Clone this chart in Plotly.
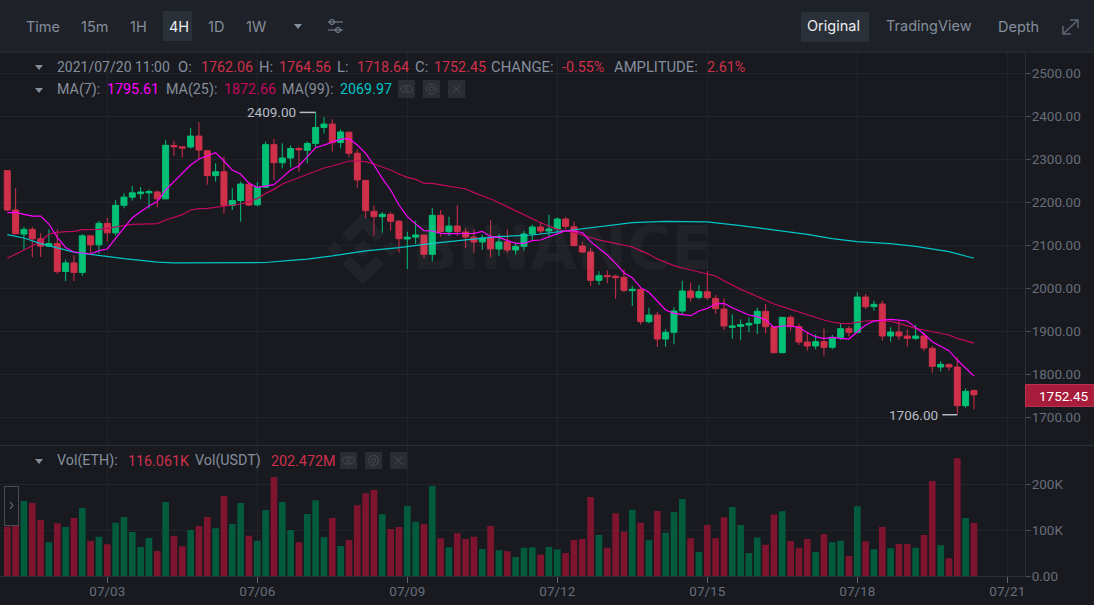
import pandas as pd
import plotly.graph_objects as go
import plotly.subplots as ms

W, H = 1094, 605

# 4H candles
opens = [2273.6, 2182.1, 2126, 2137, 2115, 2098, 2104, 2039, 2059, 2037,
         2122, 2101, 2151, 2129, 2193, 2212, 2220, 2222, 2224, 2208,
         2332, 2329, 2328.6, 2354, 2320, 2262, 2271, 2193, 2204, 2242,
         2194, 2235, 2334, 2292, 2303, 2325, 2321, 2337, 2374, 2382,
         2339, 2363, 2314, 2251, 2179, 2166.6, 2172, 2155.7, 2114.6, 2119,
         2124, 2079, 2169.7, 2131.7, 2145, 2131, 2119, 2107.7, 2117, 2091.4,
         2108, 2089, 2097.6, 2126.3, 2142.5, 2133.2, 2138, 2161, 2143, 2098.4,
         2084.4, 2018.5, 2030, 2028, 2025.5, 1994.5, 1996.8, 1922.4, 1937.9, 1882,
         1897.6, 1947.2, 1993.7, 1979, 1992, 1976.6, 1951.8, 1909.2, 1911.5, 1914.6,
         1918.5, 1946.4, 1910.7, 1850.3, 1932.5, 1910.7, 1875, 1865.8, 1875.9, 1862.7,
         1886, 1906.1, 1897.6, 1979.7, 1957.3, 1963.5, 1889, 1898.3, 1889, 1883.6,
         1889, 1860.4, 1817, 1822.4, 1817, 1727, 1762.06]
highs = [2275, 2232.5, 2143, 2143, 2128, 2137, 2137, 2067, 2077, 2126,
         2122, 2157, 2164, 2205, 2221, 2238, 2235, 2230, 2227, 2345,
         2343, 2329.5, 2373, 2386.7, 2321, 2290.6, 2306, 2232.5, 2248, 2248,
         2247, 2341, 2347, 2337, 2332, 2329, 2341, 2409, 2398, 2393,
         2369.7, 2364, 2323, 2252, 2192.9, 2177.4, 2177, 2158.8, 2131.7, 2157.3,
         2124, 2186.7, 2182, 2166.6, 2193, 2140, 2137, 2124.7, 2158.8, 2126,
         2137, 2104.6, 2133.2, 2148, 2152.6, 2171.2, 2165, 2165, 2155, 2108.4,
         2093.7, 2039.5, 2041.8, 2031.7, 2044.1, 2005.3, 2003.8, 1955, 1944.9, 1904.6,
         1955.7, 2017.7, 2013, 2007.6, 2040.2, 1984.4, 1976.6, 1939.4, 1927.8, 1932.5,
         1954.9, 1963.5, 1912.3, 1932.5, 1937.1, 1918.5, 1899.1, 1892.9, 1906.9, 1892.1,
         1917, 1912.3, 1990.6, 1986.7, 1971.2, 1971.2, 1909.2, 1924.7, 1904.5, 1915.4,
         1896.8, 1865.8, 1830.1, 1825.5, 1839.4, 1767.3, 1764.56]
lows = [2180, 2126, 2089, 2072, 2073, 2097, 2033, 2017, 2017, 2029,
        2081, 2080, 2109, 2122, 2186, 2204, 2207, 2185, 2188, 2207,
        2308, 2304.6, 2325, 2300, 2241, 2248, 2174, 2182, 2155, 2191,
        2191, 2234, 2252, 2279, 2281, 2271, 2290.6, 2329, 2360, 2318,
        2325.5, 2304.6, 2233, 2163.5, 2122.4, 2129.4, 2134, 2082.8, 2044.9, 2103,
        2070.4, 2062.7, 2120, 2121.6, 2121.6, 2093.7, 2082.8, 2089, 2072, 2075,
        2082.8, 2078.2, 2087.5, 2110.8, 2126, 2121.6, 2124.7, 2137, 2098, 2082.8,
        2005.3, 2007.7, 2011.5, 1975.1, 1990.6, 1958.8, 1915.4, 1918.5, 1863.5, 1864.2,
        1869.7, 1937.9, 1968.9, 1974.3, 1972.8, 1940.2, 1903, 1882.8, 1879.7, 1897.6,
        1893.7, 1895.2, 1848.7, 1848.7, 1901.4, 1868.1, 1855, 1858, 1843.3, 1858,
        1879.7, 1887.5, 1896.8, 1951.8, 1948, 1878.2, 1875.9, 1879.7, 1864.2, 1879.7,
        1853.4, 1803.8, 1806.9, 1808.4, 1706, 1722.4, 1718.64]
closes = [2182.1, 2127, 2137, 2115, 2098, 2104, 2039, 2059, 2037, 2122,
          2101, 2151, 2129, 2193, 2212, 2222, 2224, 2225, 2208, 2332.5,
          2329, 2326, 2354, 2321.6, 2262, 2271, 2193, 2204, 2242.5, 2193.7,
          2234.8, 2334, 2292, 2303, 2325, 2322, 2337, 2374, 2382, 2338.7,
          2363.5, 2313.9, 2251.9, 2180.5, 2166.6, 2172, 2155.7, 2115.4, 2119, 2124,
          2079, 2169.7, 2131.7, 2144.9, 2131.7, 2119.3, 2107.7, 2117, 2091.4, 2107.7,
          2089, 2097.6, 2126.3, 2142.5, 2133.2, 2137.9, 2161.1, 2144, 2099.1, 2084.4,
          2018.5, 2029.4, 2027, 2024.7, 1995.2, 1997.6, 1922.4, 1937.9, 1882, 1897.6,
          1947.2, 1993.7, 1978.2, 1992.1, 1978.2, 1952.6, 1912.3, 1912.3, 1915.4, 1918.5,
          1946.4, 1910.7, 1850.3, 1932.5, 1910.7, 1875, 1865.8, 1875.9, 1862.7, 1886,
          1906.1, 1897.6, 1979.7, 1957.3, 1962.7, 1889, 1898.3, 1889, 1883.6, 1889,
          1861.1, 1818.5, 1823.1, 1817, 1727, 1760.4, 1752.45]
volumes = [108, 112, 163.8, 159.4, 122.5, 73.9, 115.2, 107.2, 126.8, 148.6,
           76.8, 86.2, 69.6, 116.7, 129, 96.4, 63.8, 83.3, 55.1, 161.6,
           87.7, 65.2, 100.7, 109.4, 129, 104.3, 174.6, 113.8, 159.4, 88.4,
           77.5, 144.2, 215.9, 161.6, 100.7, 73.9, 135.5, 165.2, 84.8, 126.8,
           65.9, 79, 154.3, 180.4, 187.7, 134.8, 102.9, 107.2, 152.9, 118.8,
           113, 196.4, 82.6, 63, 93.5, 81.2, 86.2, 59.4, 109.4, 56.5,
           54.3, 42, 62.3, 63, 47.1, 63.8, 58, 50.7, 79, 81.2,
           172.5, 89.9, 62.3, 137, 97.1, 144.9, 116.7, 78.3, 142, 94.9,
           139.9, 168.1, 82.6, 52.9, 111.6, 82.6, 128.3, 150.7, 111.6, 50.7,
           84.1, 68.8, 134.1, 141.3, 76.8, 62.3, 81.2, 52.9, 91.3, 73.9,
           77.5, 44.2, 152.2, 76.1, 58.7, 107.2, 60.9, 70.3, 70.3, 62.3,
           89.9, 207.2, 67.4, 39.1, 256.5, 126.8, 116.061]

ma7 = [2175.9, 2176.7, 2172, 2168, 2168, 2149.5, 2118.5, 2095, 2084.4, 2081.3,
       2079.8, 2087.5, 2091.4, 2116.2, 2139.4, 2164.3, 2178.2, 2191.4, 2201.5, 2228.6,
       2248, 2267.4, 2286.7, 2300.7, 2307.7, 2315.4, 2296, 2275, 2265.8, 2244,
       2234.8, 2238.7, 2241, 2258, 2275, 2285, 2306, 2327, 2333, 2339.5,
       2347, 2348, 2333.2, 2313.9, 2286.7, 2255.7, 2228.6, 2193.7, 2166.6, 2149.5,
       2134, 2133.2, 2127.8, 2127, 2127, 2127.8, 2127.8, 2132.5, 2120, 2118.5,
       2112.3, 2104.6, 2104.6, 2110.8, 2112.3, 2120, 2127.8, 2134, 2133.2, 2129.4,
       2108.4, 2093, 2077.4, 2058, 2036.3, 2024.7, 2001.5, 1990.6, 1968.9, 1949.5,
       1941.8, 1938.7, 1936.3, 1947.2, 1953.4, 1963.5, 1965, 1954.9, 1945.6, 1937.9,
       1934, 1926.2, 1909.2, 1912.3, 1912.3, 1909.2, 1896.8, 1887.5, 1882.8, 1886,
       1883.6, 1882, 1899.1, 1914.6, 1923.9, 1926.2, 1927.8, 1926.2, 1923.9, 1909.2,
       1893.7, 1875.9, 1865.8, 1855, 1833.2, 1813.8, 1795.61]
ma25 = [2069.7, 2079, 2089, 2099, 2108.4, 2126.3, 2130, 2131.7, 2132.5, 2136.3,
        2136.3, 2137, 2139.4, 2143.3, 2145.6, 2148.7, 2149.5, 2149.5, 2150.3, 2158.8,
        2165, 2171.2, 2182, 2185.2, 2186, 2188.3, 2191.4, 2193, 2196, 2201.5,
        2208.4, 2220.8, 2230.1, 2242.5, 2250.3, 2258, 2265.8, 2273.6, 2279.8, 2284.4,
        2291, 2296, 2296, 2294.5, 2289, 2282.9, 2275.1, 2265.8, 2258, 2253.4,
        2244.1, 2244.1, 2241, 2237.9, 2234.8, 2230.9, 2222.4, 2215.4, 2207.7, 2199.1,
        2189.8, 2180.5, 2170.4, 2160.4, 2152.6, 2144.9, 2137.1, 2133.2, 2130.1, 2123.9,
        2117.7, 2112.3, 2108.4, 2104.6, 2099.9, 2096, 2087.5, 2079, 2068.1, 2059.6,
        2052.6, 2047.2, 2042.5, 2039.4, 2034.8, 2028.6, 2017.7, 2007.6, 1997.6, 1989.8,
        1980.5, 1971.2, 1963.5, 1957.3, 1951, 1945.6, 1939.4, 1932.5, 1926.2, 1921.6,
        1918.5, 1917.7, 1920.8, 1923.9, 1924.7, 1924.7, 1923.2, 1918.5, 1912.3, 1906.9,
        1903, 1899.1, 1895.2, 1891.4, 1883.6, 1877.4, 1872.66]
ma99_idx = [0, 2, 4, 6, 8, 10, 12, 14, 16, 18, 20, 24, 28, 31, 34, 36, 39, 43, 47, 51,
            55, 59, 63, 67, 71, 75, 79, 84, 88, 92, 96, 99, 102, 106, 109, 113, 116]
ma99 = [2124.7, 2117, 2104, 2094, 2084, 2079, 2073.5, 2069, 2065, 2061, 2059, 2058.8, 2059.5, 2060,
        2065, 2068, 2075.2, 2086.8, 2094.5, 2104.6, 2112.4, 2120.1, 2124, 2134.1, 2143.4, 2152.7,
        2155.5, 2154.5, 2145.6, 2134.8, 2125.5, 2115.4, 2108.4, 2103.8, 2097.6, 2085.2, 2069.97]

dates = pd.date_range("2021-07-01 00:00", periods=len(closes), freq="4h")
ma99_dates = [dates[i] for i in ma99_idx]

tick_days = ["2021-07-03", "2021-07-06", "2021-07-09", "2021-07-12", "2021-07-15", "2021-07-18", "2021-07-21"]
tick_labels = ["07/03", "07/06", "07/09", "07/12", "07/15", "07/18", "07/21"]
price_ticks = [1700, 1800, 1900, 2000, 2100, 2200, 2300, 2400, 2500]
vol_ticks = [0, 100, 200]
vol_labels = ["0.00", "100K", "200K"]

BG = "#181a20"
BAR = "#1e2127"
LINE = "#2b2f36"
GRID = "#21242a"
GREY = "#848e9c"
DIM = "#676e7b"
RED = "#cf304a"
GREEN = "#02c076"
FONT = "Roboto"

bar_colors = ["#7e142e" if c < o else "#035b3e" for o, c in zip(opens, closes)]

fig = ms.make_subplots(rows=2, cols=1, shared_xaxes=True, vertical_spacing=0.02)

candle = go.Candlestick(
    x=dates, open=opens, high=highs, low=lows, close=closes,
    increasing_line_color=GREEN, increasing_fillcolor=GREEN,
    decreasing_line_color=RED, decreasing_fillcolor=RED,
    line_width=1, whiskerwidth=0,
)
fig.add_trace(candle, row=1, col=1)
fig.add_trace(go.Scatter(x=dates, y=ma25, mode="lines", line=dict(color="#c2095f", width=1.2)), row=1, col=1)
fig.add_trace(go.Scatter(x=ma99_dates, y=ma99, mode="lines", line=dict(color="#00c4c8", width=1.2)), row=1, col=1)
fig.add_trace(go.Scatter(x=dates, y=ma7, mode="lines", line=dict(color="#ff00ff", width=1.2)), row=1, col=1)
fig.add_trace(go.Bar(x=dates, y=volumes, marker_color=bar_colors, marker_line_width=0), row=2, col=1)


def px(x):
    return x / W


def py(y):
    return 1 - y / H


shapes = []
annots = []


def text(x, y, s, color=GREY, size=14.3, anchor="left", family=FONT):
    annots.append(dict(x=px(x), y=py(y), xref="paper", yref="paper", text=s, showarrow=False,
                       xanchor=anchor, yanchor="middle", borderpad=0, borderwidth=0,
                       font=dict(family=family, size=size, color=color)))


def rect(x0, y0, x1, y1, fill, line=None, layer="above"):
    shapes.append(dict(type="rect", xref="paper", yref="paper", x0=px(x0), x1=px(x1), y0=py(y0), y1=py(y1),
                       fillcolor=fill, line=dict(color=line or fill, width=1 if line else 0), layer=layer))


def seg(x0, y0, x1, y1, color=LINE, width=1):
    shapes.append(dict(type="line", xref="paper", yref="paper", x0=px(x0), x1=px(x1), y0=py(y0), y1=py(y1),
                       line=dict(color=color, width=width), layer="above"))


def poly(points, fill=None, color=None, width=1, layer="above"):
    p = "M " + " L ".join(f"{px(a):.5f} {py(b):.5f}" for a, b in points) + (" Z" if fill else "")
    shapes.append(dict(type="path", xref="paper", yref="paper", path=p, fillcolor=fill or "rgba(0,0,0,0)",
                       line=dict(color=color or "rgba(0,0,0,0)", width=width), layer=layer))


def circle(x, y, r, color, width=1):
    shapes.append(dict(type="circle", xref="paper", yref="paper", x0=px(x - r), x1=px(x + r), y0=py(y - r), y1=py(y + r),
                       line=dict(color=color, width=width), layer="above"))


def arrow_down(x, y, color=GREY):
    poly([(x - 4, y - 2), (x + 4, y - 2), (x, y + 3)], fill=color)


# toolbar
rect(0, 0, W, 52, BAR)
seg(0, 52, W, 52)
rect(163, 11, 192, 41, "#2a3038")
rect(801, 12, 869, 42, "#2a3038")
for x, s in [(26, "Time"), (81, "15m"), (130, "1H"), (208, "1D"), (246, "1W"), (886, "TradingView"), (998, "Depth")]:
    text(x, 26, s, size=14.5, family="Inter")
text(169, 26, "4H", color="#eaecef", size=14.5, family="Inter")
text(807, 26, "Original", color="#eaecef", size=14.5, family="Inter")
arrow_down(298, 26)
seg(328, 22, 343, 22, GREY)
seg(328, 30, 343, 30, GREY)
circle(332, 22, 2.5, GREY)
circle(338, 30, 2.5, GREY)
poly([(1063, 34), (1078, 20)], color="#5e6673", width=1.5)
poly([(1070, 20), (1078, 20), (1078, 28)], color="#5e6673", width=1.5)
poly([(1063, 26), (1063, 34), (1071, 34)], color="#5e6673", width=1.5)

# info rows
arrow_down(39, 67)
arrow_down(39, 90)
arrow_down(39, 461)
row1 = [(57, "2021/07/20 11:00", GREY), (178, "O:", GREY), (201, "1762.06", RED), (259, "H:", GREY),
        (279, "1764.56", RED), (337, "L:", GREY), (357, "1718.64", RED), (415, "C:", GREY), (434, "1752.45", RED),
        (491, "CHANGE:", GREY), (562, "-0.55%", RED), (614, "AMPLITUDE:", GREY), (707, "2.61%", RED)]
row2 = [(57, "MA(7):", GREY), (107, "1795.61", "#ff00ff"), (166, "MA(25):", GREY), (224, "1872.66", "#c2095f"),
        (282, "MA(99):", GREY), (340, "2069.97", "#00c4c8")]
row3 = [(57, "Vol(ETH):", GREY), (128, "116.061K", RED), (195, "Vol(USDT)", GREY), (271, "202.472M", RED)]
for x, s, c in row1:
    size = 14.8 if c == GREY and s[0].isalpha() else 14.3
    text(x, 66.5, s, color=c, size=14 if s.startswith("2021") else size)
for x, s, c in row2:
    text(x, 89.5, s, color=c)
for x, s, c in row3:
    text(x, 460.5, s, color=c)


def icon_boxes(xs, y0, y1):
    for i, x in enumerate(xs):
        rect(x, y0, x + 17, y1, "#2a2d33")
        cx, cy = x + 8.5, (y0 + y1) / 2
        if i == 0:
            shapes.append(dict(type="circle", xref="paper", yref="paper", x0=px(cx - 6), x1=px(cx + 6), y0=py(cy - 3.5),
                               y1=py(cy + 3.5), line=dict(color="#454a53", width=1), layer="above"))
            circle(cx, cy, 1.5, "#454a53")
        elif i == 1:
            circle(cx, cy, 5, "#454a53")
            circle(cx, cy, 2, "#454a53")
        else:
            seg(cx - 4, cy - 4, cx + 4, cy + 4, "#454a53")
            seg(cx - 4, cy + 4, cx + 4, cy - 4, "#454a53")


icon_boxes([398, 423, 448], 80, 98)
icon_boxes([340, 365, 390], 452, 469)

# panel separator and collapse button
seg(0, 445.5, W, 445.5)
rect(4.5, 486.5, 18.5, 525.5, BG, line="#474d57")
poly([(10, 502), (13, 505.5), (10, 509)], color=GREY, width=1)

# watermark
WM = "#202329"
cx, cy = 363, 249
poly([(cx, cy - 36), (cx + 21, cy - 15), (cx + 13, cy - 7), (cx, cy - 20), (cx - 13, cy - 7), (cx - 21, cy - 15)], fill=WM, layer="below")
poly([(cx, cy + 36), (cx + 21, cy + 15), (cx + 13, cy + 7), (cx, cy + 20), (cx - 13, cy + 7), (cx - 21, cy + 15)], fill=WM, layer="below")
for dx, r in [(-28, 8), (0, 9), (28, 8)]:
    poly([(cx + dx, cy - r), (cx + dx + r, cy), (cx + dx, cy + r), (cx + dx - r, cy)], fill=WM, layer="below")
annots.append(dict(x=px(562), y=py(248), xref="paper", yref="paper", text="<b>BINANCE</b>", showarrow=False,
                   font=dict(family="DejaVu Sans", size=60, color="rgba(255,255,255,0.035)")))

# high / low markers
shapes.append(dict(type="line", xref="x", yref="y", xsizemode="pixel", xanchor=dates[37], x0=-16, x1=0,
                   y0=2409, y1=2409, line=dict(color="#b7bdc6", width=1.5), layer="above"))
shapes.append(dict(type="line", xref="x", yref="y", xsizemode="pixel", xanchor=dates[114], x0=-15, x1=0,
                   y0=1706, y1=1706, line=dict(color="#b7bdc6", width=1.5), layer="above"))
annots.append(dict(x=dates[37], y=2409, xref="x", yref="y", xshift=-18, text="2409.00", showarrow=False,
                   xanchor="right", font=dict(family=FONT, size=13.5, color="#b7bdc6")))
annots.append(dict(x=dates[114], y=1706, xref="x", yref="y", xshift=-17, text="1706.00", showarrow=False,
                   xanchor="right", font=dict(family=FONT, size=13.5, color="#b7bdc6")))

# last price tag
rect(1025.5, 384.5, W, 406.5, "#a81c3b", line="#b8324f")
text(1088, 395.5, "1752.45", color="#ffffff", anchor="right", size=13.5)

fig.update_layout(
    width=W, height=H,
    margin=dict(l=0, r=0, t=0, b=0),
    paper_bgcolor=BG, plot_bgcolor=BG,
    showlegend=False, boxgap=0.1, boxgroupgap=0.2, bargap=0.2,
    font=dict(family=FONT, size=13, color=DIM),
    shapes=shapes, annotations=annots,
)
x_range = ["2021-06-30 20:30", "2021-07-21 08:30"]
fig.update_xaxes(range=x_range, domain=[0, 1025 / W], tickvals=tick_days, ticktext=tick_labels, automargin=False,
                 showgrid=True, gridcolor=GRID, gridwidth=1, zeroline=False, rangeslider_visible=False)
fig.update_xaxes(showticklabels=False, ticks="", showline=False, row=1, col=1)
fig.update_xaxes(showticklabels=True, ticks="outside", ticklen=6, tickcolor="#5e6673", showline=True, ticklabelstandoff=-4,
                 linecolor=LINE, tickfont=dict(family=FONT, size=13.5, color=DIM), row=2, col=1)
fig.update_yaxes(side="right", showgrid=True, gridcolor=GRID, zeroline=False, showline=True, linecolor=LINE, automargin=False,
                 ticks="outside", ticklen=5, tickcolor="#4a4f58", ticklabelstandoff=-2, tickfont=dict(family=FONT, size=13.5, color=DIM))
fig.update_yaxes(domain=[py(445), py(52)], range=[1635.6, 2549.5], tickvals=price_ticks,
                 ticktext=[f"{v:.2f}" for v in price_ticks], row=1, col=1)
fig.update_yaxes(domain=[py(576.3), py(446)], range=[0, 283.3], tickvals=vol_ticks, ticktext=vol_labels, row=2, col=1)

fig.write_html("out.html", config=dict(displayModeBar=False),
               post_script="document.body.style.margin='0';document.body.style.background='#181a20';document.body.style.overflow='hidden';")
